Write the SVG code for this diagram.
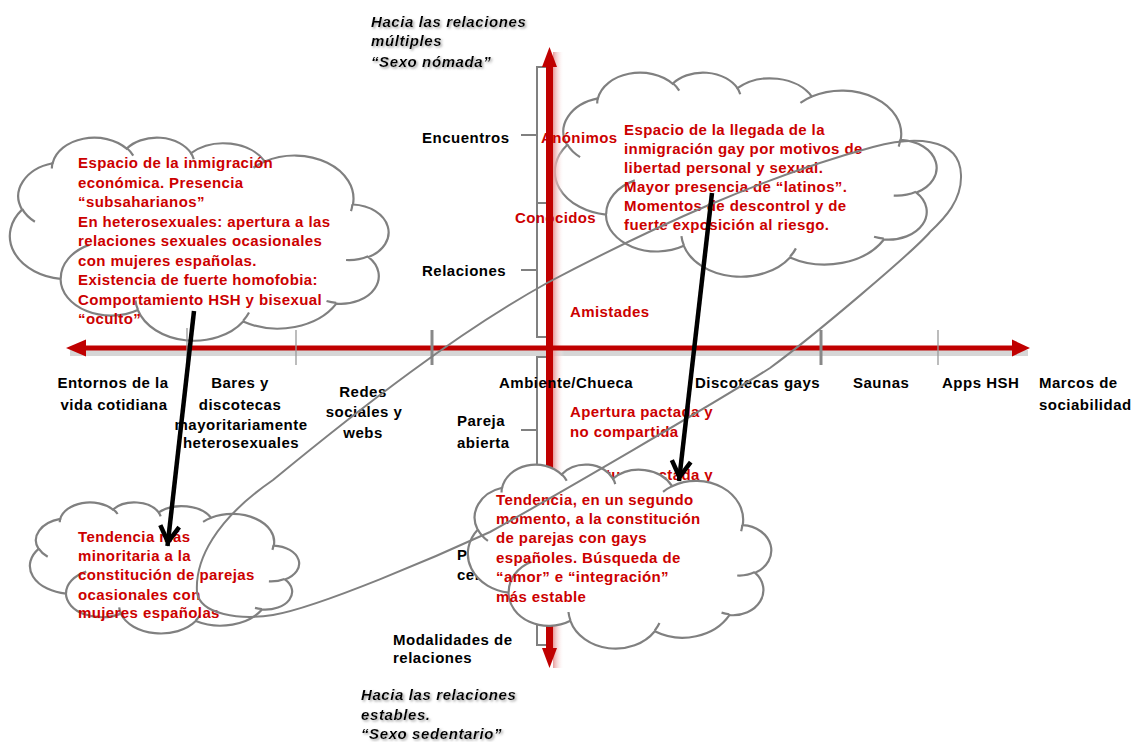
<svg xmlns="http://www.w3.org/2000/svg" xmlns:xlink="http://www.w3.org/1999/xlink" width="1142" height="742" viewBox="0 0 1142 742">
<style>
  text { font-family: "Liberation Sans", Arial, sans-serif; font-size: 15px; font-weight: bold; }
  .lbl { fill: #000; letter-spacing: 0.5px; }
  .red { fill: #CC0000; letter-spacing: 0.4px; }
  .hd { fill: #000; font-style: italic; letter-spacing: 0.6px; filter: url(#sh); }
  .ctr { text-anchor: middle; }
  .brk { fill: none; stroke: #808080; stroke-width: 2; }
  .tick { stroke: #999; stroke-width: 1.3; }
  .tickb { stroke: #888; stroke-width: 3; }
  .loop { fill: none; stroke: #808080; stroke-width: 2; }
  .arr { fill: none; stroke: #000; stroke-width: 4.5; }
</style>
<defs>
  <filter id="sh" x="-10%" y="-30%" width="120%" height="160%">
    <feDropShadow dx="1.5" dy="1.5" stdDeviation="0.8" flood-color="#999" flood-opacity="0.9"/>
  </filter>
  <linearGradient id="pink" x1="0" y1="0" x2="1" y2="0">
    <stop offset="0" stop-color="#e89a9a"/>
    <stop offset="1" stop-color="#ffffff" stop-opacity="0"/>
  </linearGradient>
  <path id="cloud" fill="#fff" stroke="#808080" stroke-width="2.2" vector-effect="non-scaling-stroke"
    d="M9.03,33.26 A15.63,21.27 0 0 1 32.42,12.04 A12.34,16.82 0 0 1 51.98,7.95 A10.10,13.76 0 0 1 69.06,5.74 A11.24,15.27 0 0 1 88.70,12.91 A12.34,16.84 0 0 1 96.80,35.79 A15.68,21.34 0 0 1 86.59,69.92 A13.39,18.21 0 0 1 66.10,85.22 A15.63,21.33 0 0 1 38.15,90.90 A17.87,24.41 0 0 1 13.44,82.11 A10.09,13.70 0 0 1 4.90,59.14 A10.06,13.76 0 0 1 9.03,33.26 Z"/>
  <path id="cloudIn" fill="none" stroke="#808080" stroke-width="2.2" vector-effect="non-scaling-stroke"
    d="M10.86,60.60 A10.06,13.76 0 0 1 5.00,58.75 M16.04,80.78 A10.09,13.70 0 0 1 13.47,81.67 M38.14,90.49 A15.63,21.33 0 0 1 36.60,86.46 M66.73,80.44 A15.63,21.33 0 0 1 66.11,84.86 M79.00,53.13 A13.39,18.21 0 0 1 86.53,69.65 M96.75,35.54 A12.34,16.84 0 0 1 93.40,41.74 M88.71,12.56 A11.24,15.27 0 0 1 88.89,15.49 M67.31,9.15 A11.24,15.27 0 0 1 69.03,5.41 M51.25,10.93 A10.10,13.76 0 0 1 52.08,7.71 M32.41,12.02 A15.63,21.27 0 0 1 35.42,15.14 M9.55,36.55 A15.63,21.27 0 0 1 9.17,33.13"/>
  <marker id="vhead" markerUnits="userSpaceOnUse" orient="auto" overflow="visible" markerWidth="30" markerHeight="30" refX="4" refY="0">
    <path d="M-16,-9.5 L0,0 L-16,9.5" fill="none" stroke="#000" stroke-width="4.5" stroke-linejoin="miter"/>
  </marker>
</defs>

<rect width="1142" height="742" fill="#fff"/>

<!-- clouds behind the axis labels -->
<g id="cloud-a">
  <use xlink:href="#cloud" href="#cloud" transform="translate(387,137) scale(-3.77,2.03)"/>
  <use xlink:href="#cloudIn" href="#cloudIn" transform="translate(387,137) scale(-3.77,2.03)"/>
  <text class="red" x="78" y="168">Espacio de la inmigración</text>
  <text class="red" x="78" y="187.5">económica. Presencia</text>
  <text class="red" x="78" y="207">“subsaharianos”</text>
  <text class="red" x="78" y="226.5">En heterosexuales: apertura a las</text>
  <text class="red" x="78" y="246">relaciones sexuales ocasionales</text>
  <text class="red" x="78" y="265.5">con mujeres españolas.</text>
  <text class="red" x="78" y="285">Existencia de fuerte homofobia:</text>
  <text class="red" x="78" y="304.5">Comportamiento HSH y bisexual</text>
  <text class="red" x="78" y="324">“oculto”</text>
</g>

<g id="cloud-b">
  <use xlink:href="#cloud" href="#cloud" transform="translate(935,72) scale(-3.80,2.04)"/>
  <use xlink:href="#cloudIn" href="#cloudIn" transform="translate(935,72) scale(-3.80,2.04)"/>
  <text class="red" x="624" y="135">Espacio de la llegada de la</text>
  <text class="red" x="624" y="154">inmigración gay por motivos de</text>
  <text class="red" x="624" y="173">libertad personal y sexual.</text>
  <text class="red" x="624" y="192">Mayor presencia de “latinos”.</text>
  <text class="red" x="624" y="211">Momentos de descontrol y de</text>
  <text class="red" x="624" y="230">fuerte exposición al riesgo.</text>
</g>

<g id="cloud-c">
  <use xlink:href="#cloud" href="#cloud" transform="translate(298,502) scale(-2.68,1.31)"/>
  <use xlink:href="#cloudIn" href="#cloudIn" transform="translate(298,502) scale(-2.68,1.31)"/>
  <text class="red" x="78" y="542">Tendencia más</text>
  <text class="red" x="78" y="561">minoritaria a la</text>
  <text class="red" x="78" y="580">constitución de parejas</text>
  <text class="red" x="78" y="600">ocasionales con</text>
  <text class="red" x="78" y="618">mujeres españolas</text>
</g>

<!-- horizontal axis -->
<g id="axes">
  <rect x="70" y="350" width="958" height="6" fill="#c8c8c8" opacity="0.75"/>
  <rect x="553" y="52" width="11" height="616" fill="url(#pink)"/>
  <rect x="80" y="345.5" width="936" height="5" fill="#C00000"/>
  <polygon points="66,348 86,339.5 86,356.5" fill="#C00000"/>
  <polygon points="1030,348 1012,339.5 1012,356.5" fill="#C00000"/>
</g>

<!-- brackets -->
<g id="brackets">
  <path class="brk" d="M549,67 H537 V337 H550 M521,135 H537 M537,203 H551 M521,270 H537"/>
  <path class="brk" d="M549,357 H537 V645 H549 M521,430 H537 M537,500 H549 M521,573 H537"/>
</g>

<!-- labels near vertical axis -->
<g id="axis-labels">
  <text class="lbl" x="422" y="143">Encuentros</text>
  <text class="red" x="541" y="143">Anónimos</text>
  <text class="red" x="515" y="223">Conocidos</text>
  <text class="lbl" x="422" y="276">Relaciones</text>
  <text class="red" x="570" y="317">Amistades</text>
  <text class="red" x="570" y="417">Apertura pactada y</text>
  <text class="red" x="570" y="437">no compartida</text>
  <text class="red" x="570" y="480">Apertura pactada y</text>
  <text class="lbl" x="457" y="426">Pareja</text>
  <text class="lbl" x="457" y="448">abierta</text>
  <text class="lbl" x="457" y="560">Pareja</text>
  <text class="lbl" x="457" y="580">cerrada</text>
  <text class="lbl" x="393" y="645">Modalidades de</text>
  <text class="lbl" x="393" y="663">relaciones</text>
  <text class="hd" x="371" y="27">Hacia las relaciones</text>
  <text class="hd" x="371" y="46">múltiples</text>
  <text class="hd" x="371" y="67">“Sexo nómada”</text>
  <text class="hd" x="361" y="700">Hacia las relaciones</text>
  <text class="hd" x="361" y="720">estables.</text>
  <text class="hd" x="361" y="739">“Sexo sedentario”</text>
</g>

<!-- vertical axis (over its labels) -->
<g id="vaxis">
  <rect x="546" y="64" width="7" height="586" fill="#C00000"/>
  <polygon points="549.5,47 542,67 557,67" fill="#C00000"/>
  <polygon points="549.5,668 542,648 557,648" fill="#C00000"/>
</g>

<!-- horizontal axis labels -->
<g id="h-labels">
  <text class="lbl ctr" x="113" y="388">Entornos de la</text>
  <text class="lbl ctr" x="114" y="410">vida cotidiana</text>
  <text class="lbl ctr" x="240" y="388">Bares y</text>
  <text class="lbl ctr" x="240" y="410">discotecas</text>
  <text class="lbl ctr" x="241" y="430">mayoritariamente</text>
  <text class="lbl ctr" x="241" y="448">heterosexuales</text>
  <text class="lbl ctr" x="363" y="397">Redes</text>
  <text class="lbl ctr" x="364" y="417">sociales y</text>
  <text class="lbl ctr" x="363" y="438">webs</text>
  <text class="lbl" x="499" y="388">Ambiente/Chueca</text>
  <text class="lbl" x="695" y="388">Discotecas gays</text>
  <text class="lbl" x="853" y="388">Saunas</text>
  <text class="lbl" x="942" y="388">Apps HSH</text>
  <text class="lbl" x="1039" y="388">Marcos de</text>
  <text class="lbl" x="1039" y="410">sociabilidad</text>
</g>

<!-- cloud over the lower part of the vertical axis -->
<g id="cloud-d">
  <use xlink:href="#cloud" href="#cloud" transform="translate(770,464) scale(-3.02,1.84)"/>
  <use xlink:href="#cloudIn" href="#cloudIn" transform="translate(770,464) scale(-3.02,1.84)"/>
  <text class="red" x="496" y="505">Tendencia, en un segundo</text>
  <text class="red" x="496" y="524">momento, a la constitución</text>
  <text class="red" x="496" y="543">de parejas con gays</text>
  <text class="red" x="496" y="563">españoles. Búsqueda de</text>
  <text class="red" x="496" y="582">“amor” e “integración”</text>
  <text class="red" x="496" y="602">más estable</text>
</g>

<!-- ticks -->
<g id="ticks">
  <line class="tick" x1="187" y1="328" x2="187" y2="365"/>
  <line class="tick" x1="296" y1="330" x2="296" y2="365"/>
  <line class="tickb" x1="432" y1="330" x2="432" y2="365"/>
  <line class="tickb" x1="821" y1="330" x2="821" y2="365"/>
  <line class="tick" x1="938" y1="330" x2="938" y2="365"/>
</g>

<!-- connectors -->
<g id="connectors">
  <path class="loop" d="M197,592 C195,560 215,520 273,480 C363,406 457,333 547,283 C657,225 763,177 873,147 C910,137 960,135 961,175 C962,200 945,218 930,232 C915,250 815,335 770,368 C720,400 550,499 490,532 C440,555 320,607 273,615 C240,620 200,615 197,592 Z"/>
  <path class="arr" d="M194,311 L167.5,546" marker-end="url(#vhead)"/>
  <path class="arr" d="M712,193 L679,481" marker-end="url(#vhead)"/>
</g>
</svg>
